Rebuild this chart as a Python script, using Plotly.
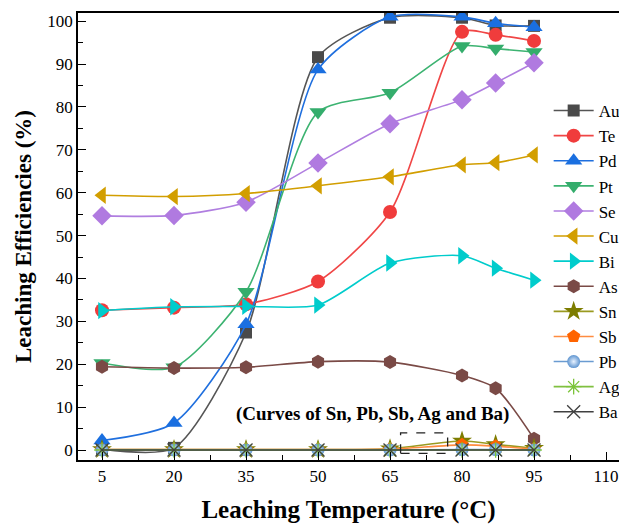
import plotly.graph_objects as go

temps = [5, 20, 35, 50, 65, 80, 87, 95]

Au = [0.2, 0.5, 27.4, 91.6, 100.8, 100.8, 99.0, 98.9]
Te = [32.6, 33.2, 34.0, 39.3, 55.5, 97.5, 96.8, 95.4]
Pd = [2.2, 6.3, 29.3, 88.7, 101.0, 101.0, 99.5, 98.6]
Pt = [20.3, 19.3, 36.9, 78.8, 83.3, 94.2, 93.6, 92.8]
Se = [54.6, 54.7, 57.8, 66.9, 76.1, 81.7, 85.6, 90.3]
Cu = [59.4, 59.1, 59.8, 61.6, 63.7, 66.5, 67.0, 68.8]
Bi = [32.5, 33.4, 33.5, 33.8, 43.6, 45.3, 42.4, 39.6]
As = [19.4, 19.1, 19.3, 20.6, 20.5, 17.4, 14.4, 2.6]
Sn = [0.1, 0.1, 0.1, 0.1, 0.3, 2.1, 1.3, 0.4]
Sb = [0.1, 0.1, 0.1, 0.1, 0.2, 1.2, 0.9, 0.2]
Pb = [0.0, 0.0, 0.0, 0.0, 0.0, 0.1, 0.1, 0.0]
Ag = [0.0, 0.0, 0.0, 0.0, 0.0, 0.0, 0.0, 0.0]
Ba = [0.0, 0.0, 0.0, 0.0, 0.0, 0.0, 0.0, 0.0]

x_ticks = [5, 20, 35, 50, 65, 80, 95, 110]
y_ticks = [0, 10, 20, 30, 40, 50, 60, 70, 80, 90, 100]

series = [
    ("Au", Au, "#4a4a4a", "#555555", "square", 12),
    ("Te", Te, "#f03c3c", "#f04646", "circle", 14),
    ("Pd", Pd, "#1a6fe0", "#1f6fde", "triangle-up", 15),
    ("Pt", Pt, "#34ad6c", "#3cb371", "triangle-down", 15),
    ("Se", Se, "#b07ae0", "#b07ee0", "diamond", 15),
    ("Cu", Cu, "#d29e00", "#d29e00", "triangle-left", 15),
    ("Bi", Bi, "#00cccc", "#00cccc", "triangle-right", 15),
    ("As", As, "#7a4a46", "#7a4a46", "hexagon", 14),
    ("Sn", Sn, "#7d7d00", "#9a9a20", "star", 15),
    ("Sb", Sb, "#ff6400", "#ff8c40", "pentagon", 14),
    ("Pb", Pb, "#5f95d0", "#6a9bd1", "circle", 13),
    ("Ag", Ag, "#7cc43a", "#80c040", "asterisk-open", 13),
    ("Ba", Ba, "#404040", "#404040", "x-thin-open", 13),
]

fig = go.Figure()
for name, vals, mcol, lcol, sym, size in series:
    marker = dict(symbol=sym, size=size, color=mcol)
    if sym.endswith("-open"):
        marker["line"] = dict(color=mcol, width=1.3)
    if name == "Pb":
        marker["gradient"] = dict(type="radial", color="#e8f2ff")
    fig.add_trace(go.Scatter(
        x=temps, y=vals, name=name, mode="lines+markers",
        line=dict(color=lcol, width=1.6, shape="spline", smoothing=0.7),
        marker=marker,
    ))

fig.add_shape(type="rect", x0=67.2, x1=77.0, y0=-0.8, y1=4.0,
              line=dict(color="#222222", width=1.3, dash="dash"))
fig.add_annotation(x=0.545, y=8.3, xref="paper", yref="y",
                   text="<b>(Curves of Sn, Pb, Sb, Ag and Ba)</b>",
                   showarrow=False, font=dict(size=19, color="black",
                                              family="Liberation Serif"))

axis_font = dict(family="Liberation Serif", size=17, color="black")
fig.update_layout(
    width=619, height=524,
    margin=dict(l=78, r=0, t=13, b=64, autoexpand=False),
    paper_bgcolor="white", plot_bgcolor="white",
    font=dict(family="Liberation Serif", color="black"),
    showlegend=True,
    legend=dict(x=0.870, y=0.821, xanchor="left", yanchor="top",
                bgcolor="rgba(0,0,0,0)", font=dict(size=17, family="Liberation Serif"),
                itemwidth=40, tracegroupgap=0),
    xaxis=dict(range=[0, 112.7], tickvals=x_ticks, ticktext=[str(v) for v in x_ticks],
               automargin=False,
               ticks="inside", ticklen=8, tickwidth=1.3, tickcolor="black",
               minor=dict(tickvals=[12.5, 27.5, 42.5, 57.5, 72.5, 87.5, 102.5],
                          ticks="inside", ticklen=5, tickwidth=1.3, tickcolor="black"),
               showline=True, linecolor="black", linewidth=1.5, mirror=True,
               showgrid=False, zeroline=False, tickfont=axis_font,
               title=dict(text="<b>Leaching Temperature (°C)</b>", standoff=16,
                          font=dict(size=25, family="Liberation Serif", color="black"))),
    yaxis=dict(range=[-2.33, 101.9], tickvals=y_ticks, automargin=False,
               ticks="inside", ticklen=8, tickwidth=1.3, tickcolor="black",
               minor=dict(tickvals=[5, 15, 25, 35, 45, 55, 65, 75, 85, 95],
                          ticks="inside", ticklen=5, tickwidth=1.3, tickcolor="black"),
               showline=True, linecolor="black", linewidth=1.5, mirror=False,
               showgrid=False, zeroline=False, tickfont=axis_font,
               title=dict(text="<b>Leaching Efficiencies (%)</b>", standoff=9,
                          font=dict(size=23, family="Liberation Serif", color="black"))),
)

fig.write_html("out.html", config={"displayModeBar": False},
               post_script="document.body.style.margin='0';document.body.style.overflow='hidden';")
